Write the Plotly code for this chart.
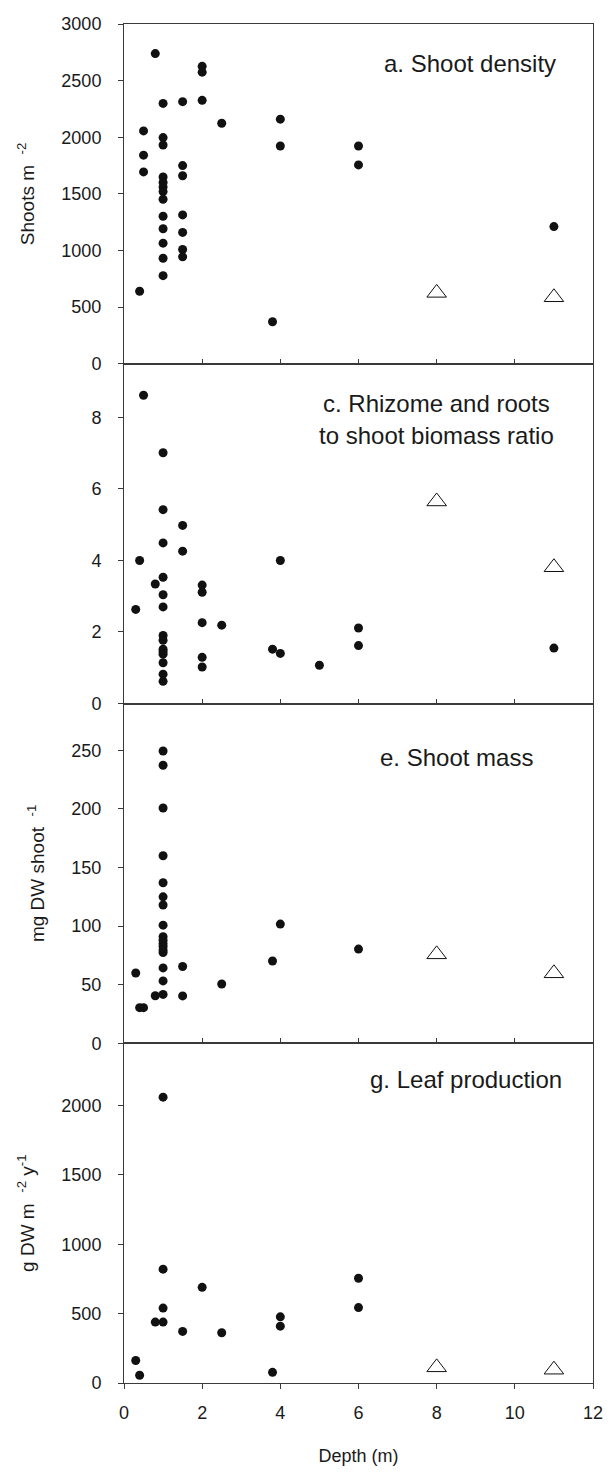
import plotly.graph_objects as go
from plotly.subplots import make_subplots

# ---------------- data ----------------
# a. Shoot density (shoots m-2)
a_depth = [0.4, 0.5, 0.5, 0.5, 0.8,
           1.0, 1.0, 1.0, 1.0, 1.0, 1.0, 1.0, 1.0, 1.0, 1.0, 1.0, 1.0, 1.0,
           1.5, 1.5, 1.5, 1.5, 1.5, 1.5, 1.5,
           2.0, 2.0, 2.0, 2.5, 3.8, 4.0, 4.0, 6.0, 6.0, 11.0]
a_value = [640, 2056, 1842, 1694, 2739,
           2299, 1997, 1932, 1650, 1600, 1560, 1520, 1453, 1302, 1192, 1065, 932, 778,
           2314, 1750, 1660, 1314, 1160, 1009, 944,
           2626, 2575, 2326, 2124, 371, 2160, 1923, 1923, 1756, 1211]
a_tri_depth = [8.0, 11.0]
a_tri_value = [626, 587]

# c. Rhizome and roots to shoot biomass ratio
c_depth = [0.3, 0.4, 0.5, 0.8,
           1.0, 1.0, 1.0, 1.0, 1.0, 1.0, 1.0, 1.0, 1.0, 1.0, 1.0, 1.0, 1.0, 1.0,
           1.5, 1.5, 2.0, 2.0, 2.0, 2.0, 2.0, 2.5, 3.8, 4.0, 4.0, 5.0, 6.0, 6.0, 11.0]
c_value = [2.63, 4.0, 8.62, 3.34,
           7.01, 5.42, 4.49, 3.53, 3.04, 2.70, 1.90, 1.77, 1.52, 1.45, 1.38, 1.14, 0.82, 0.62,
           4.98, 4.26, 3.31, 3.11, 2.26, 1.29, 1.02, 2.19, 1.52, 4.0, 1.40, 1.07, 2.11, 1.62, 1.55]
c_tri_depth = [8.0, 11.0]
c_tri_value = [5.65, 3.81]

# e. Shoot mass (mg DW shoot-1)
e_depth = [0.3, 0.4, 0.5, 0.8,
           1.0, 1.0, 1.0, 1.0, 1.0, 1.0, 1.0, 1.0, 1.0, 1.0, 1.0, 1.0, 1.0, 1.0, 1.0, 1.0, 1.0,
           1.5, 1.5, 2.5, 3.8, 4.0, 6.0]
e_value = [60, 30.4, 30.4, 40.5,
           249.5, 237.3, 200.8, 160, 137, 125, 118, 100.8, 91, 88, 85, 82.5, 79.5, 77.5, 64.3, 53.2, 41.7,
           65.5, 40.4, 50.6, 70.2, 101.7, 80.4]
e_tri_depth = [8.0, 11.0]
e_tri_value = [75.9, 59.7]

# g. Leaf production (g DW m-2 y-1)
g_depth = [0.3, 0.4, 0.8, 1.0, 1.0, 1.0, 1.0, 1.5, 2.0, 2.5, 3.8, 4.0, 4.0, 6.0, 6.0]
g_value = [162, 56, 439, 2061, 821, 540, 439, 372, 690, 362, 77, 477, 410, 755, 544]
g_tri_depth = [8.0, 11.0]
g_tri_value = [113, 96]

panel_labels = ["a. Shoot density", "c. Rhizome and roots", "to shoot biomass ratio",
                "e. Shoot mass", "g. Leaf production"]
y_titles = ["Shoots m  <sup>-2</sup>", "", "mg DW shoot  <sup>-1</sup>",
            "g DW m  <sup>-2</sup> y<sup>-1</sup>"]
x_title = "Depth (m)"

# ---------------- figure ----------------
FONT = "Liberation Sans, Arial, sans-serif"
INK = "#1a1a1a"
LINE = "#3a3a3a"

fig = make_subplots(rows=4, cols=1, vertical_spacing=0)

panels = [
    (a_depth, a_value, a_tri_depth, a_tri_value, [0, 3000], 500),
    (c_depth, c_value, c_tri_depth, c_tri_value, [0, 9.5], 2),
    (e_depth, e_value, e_tri_depth, e_tri_value, [0, 290], 50),
    (g_depth, g_value, g_tri_depth, g_tri_value, [0, 2450], 500),
]

for i, (xd, yd, xt, yt, yr, dt) in enumerate(panels):
    r = i + 1
    fig.add_trace(go.Scatter(x=xd, y=yd, mode="markers",
                             marker=dict(symbol="circle", size=9, color="#111111",
                                         line=dict(width=0)),
                             showlegend=False, cliponaxis=False, hoverinfo="skip"),
                  row=r, col=1)
    fig.add_trace(go.Scatter(x=xt, y=yt, mode="markers",
                             marker=dict(symbol="triangle-up-open", size=17,
                                         color="#111111", line=dict(width=1)),
                             showlegend=False, cliponaxis=False, hoverinfo="skip"),
                  row=r, col=1)
    last = (r == 4)
    fig.update_xaxes(range=[0, 12], dtick=2, tick0=0,
                     showline=True, linecolor=LINE, linewidth=1, mirror=True,
                     ticks="outside" if last else "inside", ticklen=5,
                     tickcolor=LINE, tickwidth=1,
                     showticklabels=last, showgrid=False, zeroline=False,
                     tickfont=dict(family=FONT, size=18, color=INK),
                     ticklabelstandoff=8, ticklabeloverflow="allow",
                     row=r, col=1)
    fig.update_yaxes(range=yr, dtick=dt, tick0=0,
                     showline=True, linecolor=LINE, linewidth=1, mirror=True,
                     ticks="outside", ticklen=5, tickcolor=LINE, tickwidth=1,
                     showgrid=False, zeroline=False,
                     tickfont=dict(family=FONT, size=18, color=INK),
                     ticklabelstandoff=13,
                     title=dict(text=y_titles[i], standoff=21,
                                font=dict(family=FONT, size=19, color=INK)),
                     row=r, col=1)

fig.update_xaxes(title=dict(text=x_title, standoff=27,
                            font=dict(family=FONT, size=18, color=INK)), row=4, col=1)

# panel labels
fig.add_annotation(x=11.1, y=2650, xref="x", yref="y", text=panel_labels[0],
                   xanchor="right", yanchor="middle", showarrow=False,
                   font=dict(family=FONT, size=24, color=INK))
fig.add_annotation(x=8.0, y=8.4, xref="x2", yref="y2", text=panel_labels[1],
                   xanchor="center", yanchor="middle", showarrow=False,
                   font=dict(family=FONT, size=24, color=INK))
fig.add_annotation(x=8.0, y=7.48, xref="x2", yref="y2", text=panel_labels[2],
                   xanchor="center", yanchor="middle", showarrow=False,
                   font=dict(family=FONT, size=24, color=INK))
fig.add_annotation(x=8.5, y=244, xref="x3", yref="y3", text=panel_labels[3],
                   xanchor="center", yanchor="middle", showarrow=False,
                   font=dict(family=FONT, size=24, color=INK))
fig.add_annotation(x=8.75, y=2190, xref="x4", yref="y4", text=panel_labels[4],
                   xanchor="center", yanchor="middle", showarrow=False,
                   font=dict(family=FONT, size=24, color=INK))

fig.update_layout(width=613, height=1480,
                  margin=dict(l=124, r=10, t=24, b=97),
                  paper_bgcolor="white", plot_bgcolor="white",
                  font=dict(family=FONT, color=INK))

fig.write_html("out.html", config={"displayModeBar": False},
               post_script="document.body.style.margin='0';document.body.style.overflow='hidden';")
